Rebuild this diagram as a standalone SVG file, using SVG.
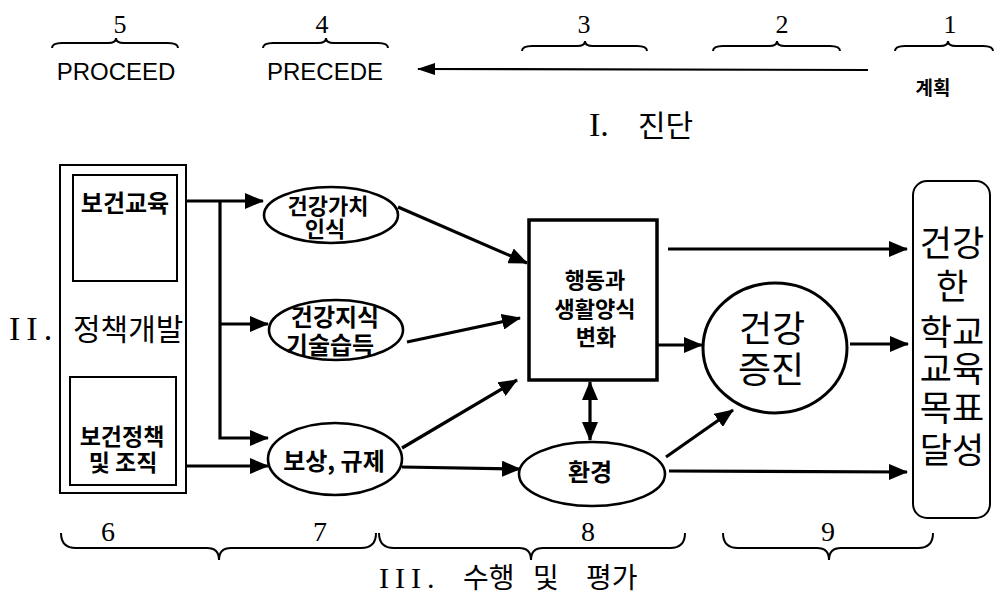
<svg xmlns="http://www.w3.org/2000/svg" width="995" height="601" viewBox="0 0 995 601">
<style>
.ko{font-family:"Noto Sans CJK KR","Noto Sans",sans-serif;fill:#000}
.b{font-weight:700}
.n{font-weight:400}
.ser{font-family:"Liberation Serif","Noto Sans CJK KR",serif;fill:#000}
.lat{font-family:"Liberation Sans",Arial,sans-serif;fill:#000}
.box{fill:none;stroke:#000;stroke-width:2}
.el{fill:#fff;stroke:#000;stroke-width:2.6}
.brace{fill:none;stroke:#000;stroke-width:2}
.con{fill:none;stroke:#000;stroke-width:3.2}
</style>
<defs>
<marker id="ah" markerUnits="userSpaceOnUse" markerWidth="19" markerHeight="16" refX="18" refY="8" orient="auto-start-reverse" viewBox="0 0 19 16">
<path d="M0,0 L19,8 L0,16 z" fill="#000"/>
</marker>
<marker id="ahs" markerUnits="userSpaceOnUse" markerWidth="18" markerHeight="12" refX="17" refY="6" orient="auto" viewBox="0 0 18 12">
<path d="M0,0 L18,6 L0,12 z" fill="#000"/>
</marker>
</defs>

<g id="top-header">
<text class="ser" x="120" y="33" font-size="26" text-anchor="middle">5</text>
<text class="ser" x="322" y="33" font-size="26" text-anchor="middle">4</text>
<text class="ser" x="584" y="33" font-size="26" text-anchor="middle">3</text>
<text class="ser" x="782" y="33" font-size="26" text-anchor="middle">2</text>
<text class="ser" x="950" y="33" font-size="26" text-anchor="middle">1</text>
<path class="brace" d="M52,48 Q52,43 62,43 L108,43 Q116,43 116,38 Q116,43 124,43 L168,43 Q178,43 178,48"/>
<path class="brace" d="M263,48 Q263,43 273,43 L318,43 Q326,43 326,38 Q326,43 334,43 L378,43 Q388,43 388,48"/>
<path class="brace" d="M522,51 Q522,46 532,46 L577,46 Q585,46 585,41 Q585,46 593,46 L637,46 Q647,46 647,51"/>
<path class="brace" d="M713,51 Q713,46 723,46 L769,46 Q777,46 777,41 Q777,46 785,46 L830,46 Q840,46 840,51"/>
<path class="brace" d="M895,51 Q895,46 905,46 L940,46 Q948,46 948,41 Q948,46 956,46 L983,46 Q993,46 993,51"/>
<text class="lat" x="116" y="80" font-size="24" text-anchor="middle">PROCEED</text>
<text class="lat" x="325" y="80" font-size="24" text-anchor="middle">PRECEDE</text>
<text class="ko b" x="933" y="95" font-size="19" text-anchor="middle">계획</text>
<line x1="868" y1="70" x2="418" y2="69" stroke="#000" stroke-width="2.2" marker-end="url(#ahs)"/>
<text class="ser" y="136" font-size="34"><tspan x="589">I.</tspan><tspan class="ko n" x="638" font-size="30">진단</tspan></text>
</g>

<g id="policy-frame">
<rect class="box" x="60" y="165" width="126" height="328"/>
<text class="ser" y="340" font-size="34" letter-spacing="6"><tspan x="9">II.</tspan></text>
<text class="ko n" x="73" y="340" font-size="30">정책개발</text>
</g>

<g id="health-education">
<rect class="box" x="73" y="175" width="104" height="106"/>
<text class="ko b" x="125" y="212" font-size="24" text-anchor="middle">보건교육</text>
</g>

<g id="health-policy">
<rect class="box" x="70" y="377" width="106" height="108"/>
<text class="ko b" x="122" y="445" font-size="23" text-anchor="middle">보건정책</text>
<text class="ko b" x="123" y="471" font-size="23" text-anchor="middle">및 조직</text>
</g>

<g id="connectors">
<line class="con" x1="187" y1="201" x2="263" y2="201" marker-end="url(#ah)"/>
<polyline class="con" points="220,201 220,438 268,438" marker-end="url(#ah)"/>
<line class="con" x1="220" y1="324" x2="268" y2="324" marker-end="url(#ah)"/>
<line class="con" x1="186" y1="466" x2="268" y2="466" marker-end="url(#ah)"/>
<line class="con" x1="398" y1="207" x2="527" y2="263" marker-end="url(#ah)"/>
<line class="con" x1="407" y1="342" x2="520" y2="318" marker-end="url(#ah)"/>
<line class="con" x1="402" y1="448" x2="517" y2="380" marker-end="url(#ah)"/>
<line class="con" x1="402" y1="467" x2="520" y2="469" marker-end="url(#ah)"/>
<line class="con" x1="590" y1="382" x2="590" y2="440" marker-start="url(#ah)" marker-end="url(#ah)"/>
<line class="con" x1="657" y1="345" x2="702" y2="345" marker-end="url(#ah)"/>
<line class="con" x1="666" y1="457" x2="733" y2="410" marker-end="url(#ah)"/>
<line class="con" x1="668" y1="249" x2="907" y2="249" marker-end="url(#ah)"/>
<line class="con" x1="850" y1="344" x2="908" y2="344" marker-end="url(#ah)"/>
<line class="con" x1="669" y1="471" x2="907" y2="472" marker-end="url(#ah)"/>
</g>

<g id="value-awareness">
<ellipse class="el" cx="331" cy="215" rx="67" ry="28"/>
<text class="ko b" x="328" y="214" font-size="22" text-anchor="middle">건강가치</text>
<text class="ko b" x="325" y="237" font-size="22" text-anchor="middle">인식</text>
</g>

<g id="knowledge-skills">
<ellipse class="el" cx="336" cy="330" rx="67" ry="30"/>
<text class="ko b" x="335" y="326" font-size="24" text-anchor="middle">건강지식</text>
<text class="ko b" x="330" y="354" font-size="24" text-anchor="middle">기술습득</text>
</g>

<g id="reward-regulation">
<ellipse class="el" cx="335" cy="459" rx="67" ry="36"/>
<text class="ko b" x="334" y="470" font-size="24" text-anchor="middle">보상, 규제</text>
</g>

<g id="behavior-change">
<rect x="529" y="220" width="128" height="160" fill="#fff" stroke="#000" stroke-width="3.5"/>
<text class="ko b" x="595" y="288" font-size="22" text-anchor="middle">행동과</text>
<text class="ko b" x="595" y="317" font-size="22" text-anchor="middle">생활양식</text>
<text class="ko b" x="596" y="345" font-size="22" text-anchor="middle">변화</text>
</g>

<g id="environment">
<ellipse class="el" cx="592" cy="474" rx="73" ry="32"/>
<text class="ko b" x="590" y="481" font-size="24" text-anchor="middle">환경</text>
</g>

<g id="health-promotion">
<ellipse cx="775" cy="348" rx="72" ry="65" fill="#fff" stroke="#000" stroke-width="3"/>
<text class="ko n" x="772" y="342" font-size="36" text-anchor="middle">건강</text>
<text class="ko n" x="771" y="383" font-size="36" text-anchor="middle">증진</text>
</g>

<g id="school-goal">
<rect class="box" x="913" y="181" width="77" height="337" rx="14"/>
<text class="ko n" x="952" y="256" font-size="35" text-anchor="middle">건강</text>
<text class="ko n" x="952" y="299" font-size="35" text-anchor="middle">한</text>
<text class="ko n" x="952" y="345" font-size="35" text-anchor="middle">학교</text>
<text class="ko n" x="952" y="382" font-size="35" text-anchor="middle">교육</text>
<text class="ko n" x="952" y="421" font-size="35" text-anchor="middle">목표</text>
<text class="ko n" x="952" y="463" font-size="35" text-anchor="middle">달성</text>
</g>

<g id="bottom-footer">
<text class="ser" x="108" y="541" font-size="28" text-anchor="middle">6</text>
<text class="ser" x="320" y="541" font-size="28" text-anchor="middle">7</text>
<text class="ser" x="588" y="541" font-size="28" text-anchor="middle">8</text>
<text class="ser" x="828" y="541" font-size="28" text-anchor="middle">9</text>
<path class="brace" d="M61,533 Q61,548 76,548 L207,548 Q219,548 219,560 Q219,548 231,548 L361,548 Q376,548 376,533"/>
<path class="brace" d="M379,533 Q379,548 394,548 L519,548 Q531,548 531,560 Q531,548 543,548 L670,548 Q685,548 685,533"/>
<path class="brace" d="M723,533 Q723,548 738,548 L817,548 Q829,548 829,560 Q829,548 841,548 L918,548 Q933,548 933,533"/>
<text class="ser" y="588" font-size="30" letter-spacing="6"><tspan x="379">III.</tspan></text>
<text class="ko n" y="588" font-size="28"><tspan x="463">수행</tspan><tspan x="533">및</tspan><tspan x="586">평가</tspan></text>
</g>
</svg>
